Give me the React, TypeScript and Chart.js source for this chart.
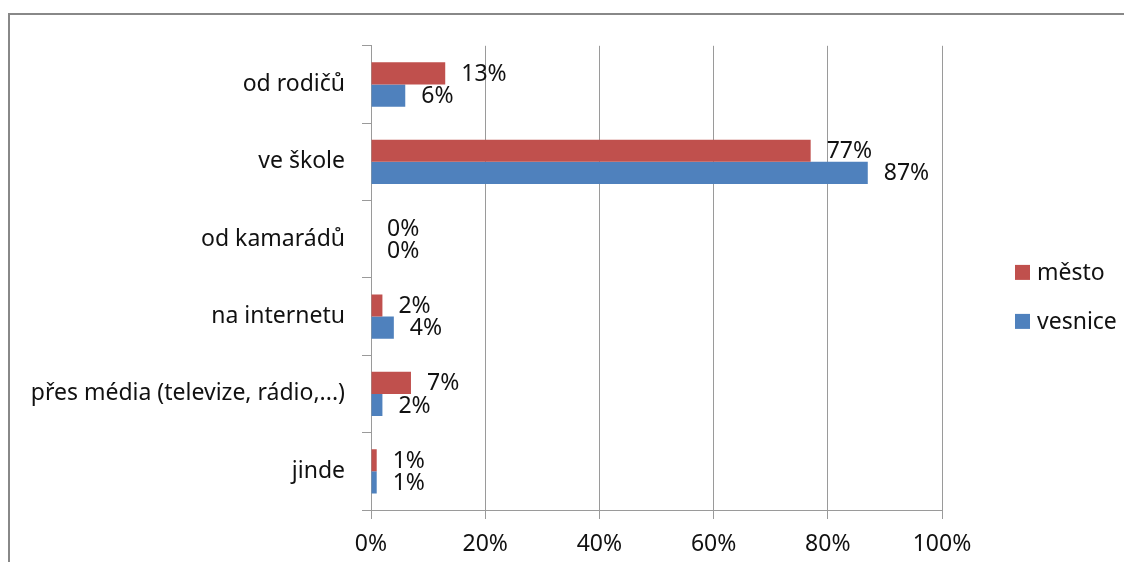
import React, { useEffect, useRef } from "react";
import { Chart, registerables } from "chart.js";

Chart.register(...registerables);

const categories = [
  "od rodičů",
  "ve škole",
  "od kamarádů",
  "na internetu",
  "přes média (televize, rádio,...)",
  "jinde",
];
const mestoValues = [13, 77, 0, 2, 7, 1];
const vesniceValues = [6, 87, 0, 4, 2, 1];
const seriesNames = ["město", "vesnice"];
const xTicks = [0, 20, 40, 60, 80, 100];

const FONT = "'Noto Sans', 'DejaVu Sans', sans-serif";
const FSIZE = 23;
const GRID = "#9a9a9a";

const valueLabels = {
  id: "valueLabels",
  afterDatasetsDraw(chart: any) {
    const ctx = chart.ctx;
    ctx.save();
    ctx.font = `${FSIZE}px ${FONT}`;
    ctx.fillStyle = "#111";
    ctx.textAlign = "left";
    ctx.textBaseline = "middle";
    chart.data.datasets.forEach((ds: any, di: number) => {
      const meta = chart.getDatasetMeta(di);
      meta.data.forEach((bar: any, i: number) => {
        ctx.fillText(ds.data[i] + "%", bar.x + 16, bar.y + 1);
      });
    });
    ctx.restore();
  },
};

const sideLegend = {
  id: "sideLegend",
  afterDraw(chart: any) {
    const ctx = chart.ctx;
    const area = chart.chartArea;
    const boxX = area.right + 73;
    const ys = [area.top + (area.bottom - area.top) / 2 - 5.5, area.top + (area.bottom - area.top) / 2 + 43.5];
    ctx.save();
    ctx.font = `${FSIZE}px ${FONT}`;
    ctx.textBaseline = "middle";
    ctx.textAlign = "left";
    chart.data.datasets.forEach((ds: any, i: number) => {
      const y = ys[i];
      ctx.fillStyle = ds.backgroundColor;
      ctx.fillRect(boxX, y - 7.5, 15, 15);
      ctx.fillStyle = "#111";
      ctx.fillText(ds.label, boxX + 22, y + 1);
    });
    ctx.restore();
  },
};

export default function App() {
  const ref = useRef<HTMLCanvasElement | null>(null);
  useEffect(() => {
    if (!ref.current) return;
    const chart = new Chart(ref.current, {
      type: "bar",
      data: {
        labels: categories,
        datasets: [
          {
            label: seriesNames[0],
            data: mestoValues,
            backgroundColor: "#C0504D",
            categoryPercentage: 0.573,
            barPercentage: 1,
          },
          {
            label: seriesNames[1],
            data: vesniceValues,
            backgroundColor: "#4F81BD",
            categoryPercentage: 0.573,
            barPercentage: 1,
          },
        ],
      },
      plugins: [valueLabels, sideLegend],
      options: {
        indexAxis: "y",
        animation: false,
        responsive: true,
        maintainAspectRatio: false,
        layout: { padding: { top: 27, right: 190, left: 0, bottom: 0 } },
        plugins: {
          legend: { display: false },
          tooltip: { enabled: false },
        },
        scales: {
          x: {
            min: 0,
            max: 100,
            afterBuildTicks: (scale: any) => {
              scale.ticks = xTicks.map((v) => ({ value: v }));
            },
            afterFit: (scale: any) => {
              scale.height = 60;
            },
            ticks: {
              callback: (v: any) => v + "%",
              color: "#111",
              font: { family: FONT, size: FSIZE },
              padding: 12,
              maxRotation: 0,
            },
            grid: {
              color: GRID,
              tickLength: 9,
              drawTicks: true,
              lineWidth: 1,
            },
            border: { color: GRID, width: 1 },
          },
          y: {
            afterFit: (scale: any) => {
              scale.width = 361;
            },
            ticks: {
              color: "#111",
              font: { family: FONT, size: FSIZE },
              padding: 17,
            },
            grid: {
              drawOnChartArea: false,
              drawTicks: true,
              tickLength: 9,
              color: GRID,
              offset: true,
            },
            border: { color: GRID, width: 1 },
          },
        },
      },
    });
    return () => chart.destroy();
  }, []);

  return (
    <div style={{ paddingTop: 5 }}>
      <div
        style={{
          borderTop: "2px solid #888",
          borderLeft: "2px solid #888",
          marginRight: -8,
          marginBottom: -8,
          width: 1122,
          height: 555,
          position: "relative",
        }}
      >
        <canvas ref={ref} />
      </div>
    </div>
  );
}
